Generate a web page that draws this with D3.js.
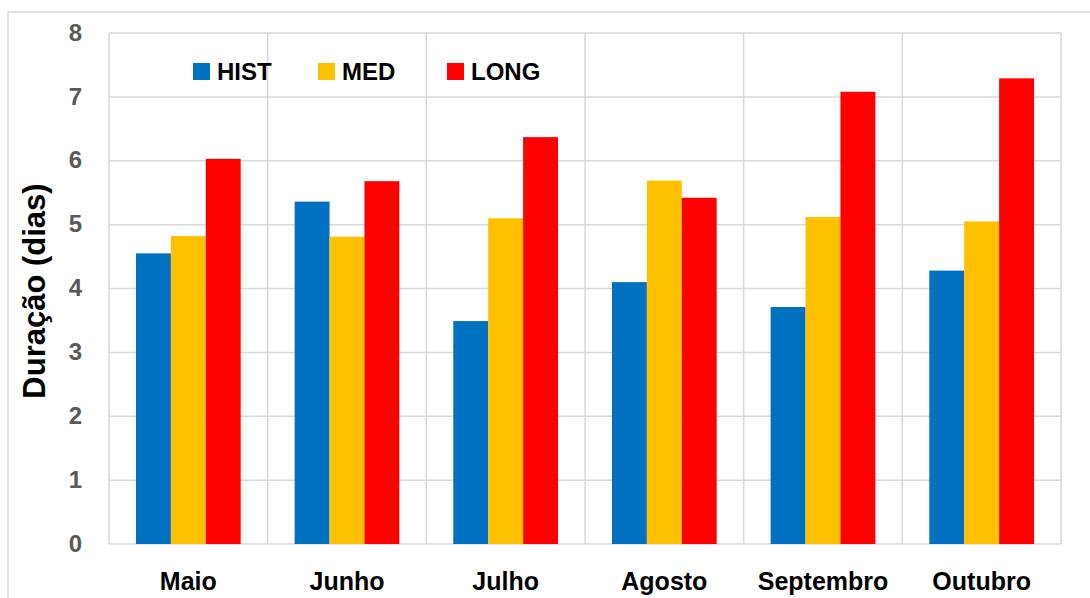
<!DOCTYPE html>
<html>
<head>
<meta charset="utf-8">
<script src="https://cdn.jsdelivr.net/npm/d3@7/dist/d3.min.js"></script>
<style>
  html, body { margin: 0; padding: 0; background: #fff; }
  svg { display: block; }
  text { font-family: "Liberation Sans", Arial, sans-serif; font-weight: bold; }
</style>
</head>
<body>
<svg id="chart" width="1090" height="598"></svg>
<script>
const categories = ["Maio", "Junho", "Julho", "Agosto", "Septembro", "Outubro"];
const seriesNames = ["HIST", "MED", "LONG"];
const histValues = [4.55, 5.36, 3.49, 4.10, 3.71, 4.28];
const medValues  = [4.82, 4.81, 5.10, 5.69, 5.12, 5.05];
const longValues = [6.03, 5.68, 6.37, 5.42, 7.08, 7.29];
const yTicks = [0, 1, 2, 3, 4, 5, 6, 7, 8];
const seriesColors = ["#0070C0", "#FFC000", "#FF0000"];
const yTitle = "Duração (dias)";

const seriesValues = [histValues, medValues, longValues];

const svg = d3.select("#chart");
const plot = { left: 109, right: 1061, top: 33, bottom: 544 };
const grid = "#d9d9d9";

// outer frame (cut off at right and bottom like the reference)
svg.append("rect")
  .attr("x", 8).attr("y", 12)
  .attr("width", 1100).attr("height", 620)
  .attr("fill", "none").attr("stroke", grid).attr("stroke-width", 1.5);

const x0 = d3.scaleBand().domain(categories).range([plot.left, plot.right]).padding(0);
const bw = x0.bandwidth();
const x1 = d3.scaleBand().domain(seriesNames).range([bw * 0.17, bw * 0.83]).padding(0);
const y = d3.scaleLinear().domain([0, 8]).range([plot.bottom, plot.top]);

// horizontal gridlines
svg.append("g").selectAll("line").data(yTicks).join("line")
  .attr("x1", plot.left).attr("x2", plot.right)
  .attr("y1", d => y(d)).attr("y2", d => y(d))
  .attr("stroke", grid).attr("stroke-width", 1.5);

// vertical gridlines at category boundaries
const bounds = categories.map(c => x0(c)).concat([x0(categories[categories.length - 1]) + bw]);
svg.append("g").selectAll("line").data(bounds).join("line")
  .attr("x1", d => d).attr("x2", d => d)
  .attr("y1", plot.top).attr("y2", plot.bottom)
  .attr("stroke", grid).attr("stroke-width", 1.5);

// bars
const groups = svg.append("g").selectAll("g").data(categories).join("g")
  .attr("transform", c => `translate(${x0(c)},0)`);
groups.selectAll("rect")
  .data((c, i) => seriesNames.map((s, j) => ({ s, j, v: seriesValues[j][i] })))
  .join("rect")
  .attr("x", d => x1(d.s))
  .attr("width", x1.bandwidth())
  .attr("y", d => y(d.v))
  .attr("height", d => y(0) - y(d.v))
  .attr("fill", d => seriesColors[d.j]);

// y axis labels
const yAxis = d3.axisLeft(y).tickValues(yTicks).tickSize(0).tickPadding(0).tickFormat(d3.format("d"));
const yg = svg.append("g").attr("transform", `translate(82,0)`).call(yAxis);
yg.select(".domain").remove();
yg.selectAll("text")
  .attr("fill", "#595959")
  .style("font-size", "24px")
  .style("font-family", '"Liberation Sans", Arial, sans-serif')
  .style("font-weight", "bold")
  .attr("dy", "0.3em");

// x axis labels
const xAxis = d3.axisBottom(x0).tickSize(0).tickPadding(0);
const xg = svg.append("g").attr("transform", `translate(0,${plot.bottom})`).call(xAxis);
xg.select(".domain").remove();
xg.selectAll("text")
  .attr("fill", "#000")
  .attr("y", 46).attr("dy", 0)
  .style("font-size", "25px")
  .style("font-family", '"Liberation Sans", Arial, sans-serif')
  .style("font-weight", "bold");

// y title
svg.append("text")
  .attr("transform", "translate(45,291) rotate(-90)")
  .attr("text-anchor", "middle")
  .attr("fill", "#000")
  .style("font-size", "31px")
  .text(yTitle);

// legend
const legendX = [193, 318, 447];
const lg = svg.append("g").selectAll("g").data(seriesNames).join("g")
  .attr("transform", (d, i) => `translate(${legendX[i]},63)`);
lg.append("rect").attr("width", 17).attr("height", 17)
  .attr("fill", (d, i) => seriesColors[i]);
lg.append("text").attr("x", 24).attr("y", 17)
  .attr("fill", "#000")
  .style("font-size", "24px")
  .text(d => d);
</script>
</body>
</html>
